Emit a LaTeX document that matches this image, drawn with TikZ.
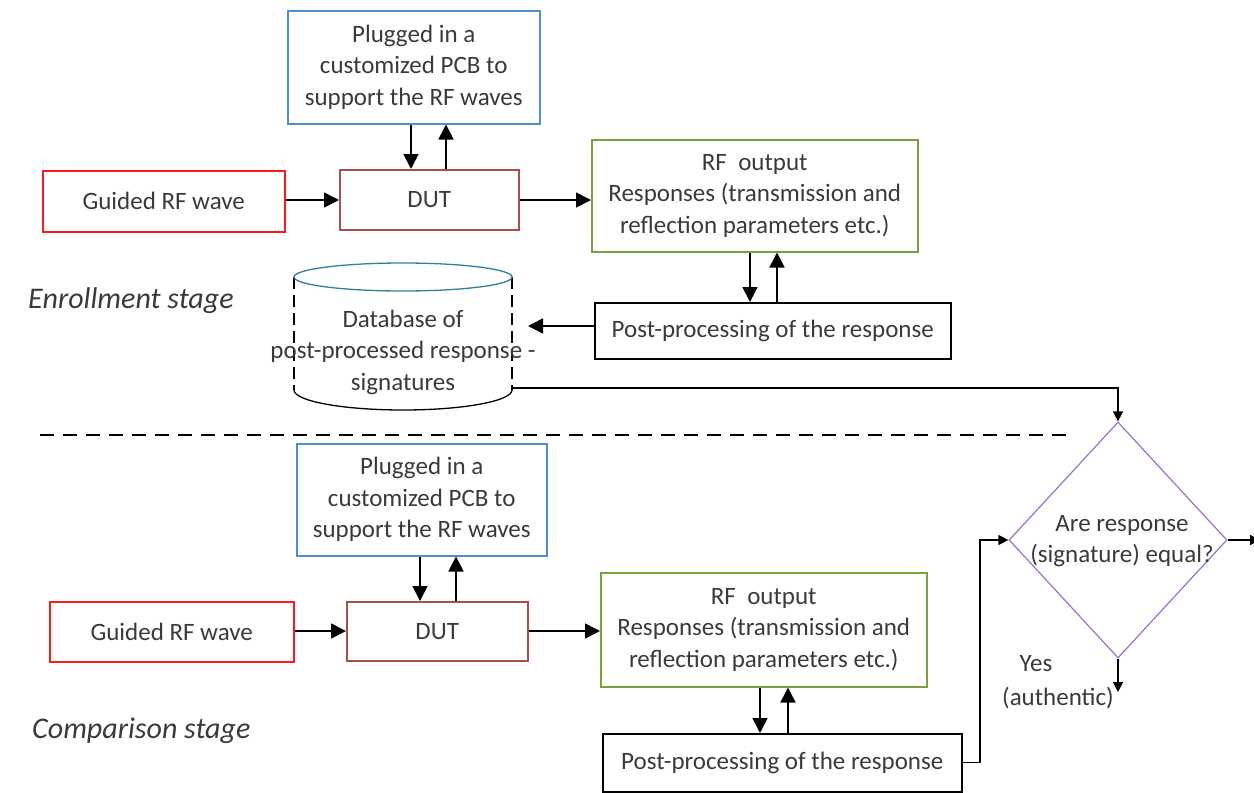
\documentclass[tikz,border=0pt]{standalone}
\usepackage{fontspec}
\setmainfont{Carlito}
\usetikzlibrary{shapes.geometric,arrows.meta}
\definecolor{cred}{HTML}{FF1A1A}
\definecolor{cdut}{HTML}{A94F48}
\definecolor{cblue}{HTML}{4A90D9}
\definecolor{cgreen}{HTML}{77A33A}
\definecolor{cpurp}{HTML}{9A6FD0}
\definecolor{cteal}{HTML}{2F7FA0}
\definecolor{ctext}{HTML}{3A3A3A}
\begin{document}
\begin{tikzpicture}[x=1pt,y=-1pt,
 txt/.style={font=\fontsize{25}{31.5}\selectfont, align=center, text=ctext},
 stage/.style={font=\fontsize{30}{34}\selectfont\itshape, text=ctext, anchor=west, inner sep=0pt},
 box/.style={txt, draw, line width=1.5pt, inner sep=0pt, anchor=north west},
 arr/.style={line width=1.6pt, -{Triangle[length=15pt,width=15pt]}},
 arrs/.style={line width=1.4pt, -{Triangle[length=10pt,width=10pt]}}]
\useasboundingbox (0,0) rectangle (1254,793);

% ---------- Enrollment stage ----------
\node[box, draw=cblue, minimum width=252pt, minimum height=113pt] (pcb1) at (287,10) {Plugged in a\\customized PCB to\\support the RF waves};
\node[box, draw=cred, minimum width=242pt, minimum height=61pt] (g1) at (42,170) {Guided RF wave};
\node[box, draw=cdut, minimum width=179pt, minimum height=60pt] (dut1) at (339,169) {DUT};
\node[box, draw=cgreen, minimum width=326pt, minimum height=112pt] (rf1) at (591,139) {RF\ \ output\\Responses (transmission and\\reflection parameters etc.)};
\node[box, draw=black, minimum width=356pt, minimum height=56pt] (post1) at (594,302) {Post-processing of the response};

% database cylinder
\draw[line width=1.3pt, dash pattern=on 12pt off 6pt] (294,277) -- (294,390);
\draw[line width=1.3pt, dash pattern=on 12pt off 6pt] (512,277) -- (512,390);
\draw[cteal, line width=1.3pt] (403,277) ellipse [x radius=109pt, y radius=14pt];
\draw[line width=1.3pt] (294,390) arc[start angle=180, end angle=360, x radius=109pt, y radius=20pt];
\node[txt] (db) at (403,352) {Database of\\post-processed response -\\signatures};
\coordinate (dbin) at (528,326);
\coordinate (dbout) at (512,388);

\node[stage] (enr) at (28,301) {Enrollment stage};

\draw[arr] (g1.east |- 0,200) -- (dut1.west |- 0,200);
\draw[arr] (411,0 |- pcb1.south) -- (411,0 |- dut1.north);
\draw[arr] (446,0 |- dut1.north) -- (446,0 |- pcb1.south);
\draw[arr] (dut1.east |- 0,200) -- (rf1.west |- 0,200);
\draw[arr] (750,0 |- rf1.south) -- (750,0 |- post1.north);
\draw[arr] (777,0 |- post1.north) -- (777,0 |- rf1.south);
\draw[arr] (post1.west |- dbin) -- (dbin);

% divider
\draw[line width=1.4pt, dash pattern=on 14pt off 9pt] (40,435) -- (1075,435);

% ---------- Comparison stage ----------
\node[box, draw=cblue, minimum width=250pt, minimum height=112pt] (pcb2) at (296,443) {Plugged in a\\customized PCB to\\support the RF waves};
\node[box, draw=cred, minimum width=244pt, minimum height=60pt] (g2) at (49,601) {Guided RF wave};
\node[box, draw=cdut, minimum width=181pt, minimum height=59pt] (dut2) at (346,601) {DUT};
\node[box, draw=cgreen, minimum width=326pt, minimum height=114pt] (rf2) at (600,572) {RF\ \ output\\Responses (transmission and\\reflection parameters etc.)};
\node[box, draw=black, minimum width=359pt, minimum height=58pt] (post2) at (602,733) {Post-processing of the response};

\node[stage] (cmp) at (32,731) {Comparison stage};

\draw[arr] (g2.east |- 0,631) -- (dut2.west |- 0,631);
\draw[arr] (420,0 |- pcb2.south) -- (420,0 |- dut2.north);
\draw[arr] (456,0 |- dut2.north) -- (456,0 |- pcb2.south);
\draw[arr] (dut2.east |- 0,631) -- (rf2.west |- 0,631);
\draw[arr] (760,0 |- rf2.south) -- (760,0 |- post2.north);
\draw[arr] (788,0 |- post2.north) -- (788,0 |- rf2.south);

% ---------- decision ----------
\node[draw=cpurp, diamond, line width=1.2pt, minimum width=218pt, minimum height=236pt, inner sep=0pt] (dia) at (1118,540) {};
\node[txt] (diat) at (1122,541) {Are response\\(signature) equal?};
\node[txt] (yes) at (1036,664) {Yes};
\node[txt] (auth) at (1058,698) {(authentic)};
\coordinate (yesend) at (1118,692);
\coordinate (outend) at (1260,540);

\draw[arrs] (dbout) -| (dia.north);
\draw[arrs] (post2.east) -- (980,0 |- post2.east) |- (dia.west);
\draw[arrs] (dia.east) -- (outend);
\draw[arrs] (dia.south) -- (yesend);
\end{tikzpicture}
\end{document}
